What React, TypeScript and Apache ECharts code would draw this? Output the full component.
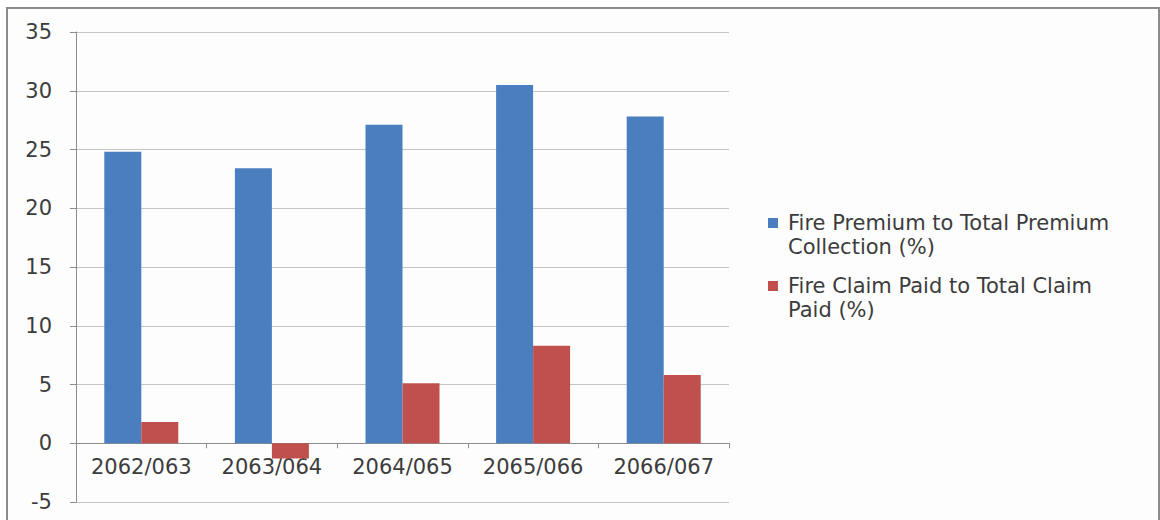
import React, { useEffect, useRef } from "react";
import * as echarts from "echarts";

const categories = ["2062/063", "2063/064", "2064/065", "2065/066", "2066/067"];
const premiumShare = [24.8, 23.4, 27.1, 30.5, 27.8];
const claimShare = [1.8, -1.3, 5.1, 8.3, 5.8];
const seriesNames = [
  "Fire Premium to Total Premium\nCollection (%)",
  "Fire Claim Paid to Total Claim\nPaid (%)",
];
const yMin = -5;
const yMax = 35;
const yStep = 5;

const FONT = "DejaVu Sans";
const TXT = "#3c3c3c";

export default function App() {
  const ref = useRef<HTMLDivElement>(null);
  useEffect(() => {
    document.body.style.margin = "0";
    const chart = echarts.init(ref.current!, null, { renderer: "svg" });
    const legendCommon = {
      orient: "vertical",
      left: 768,
      padding: 0,
      itemWidth: 20,
      itemHeight: 10,
      icon: "path://M0,0h10v10h-10z",
      symbolKeepAspect: true,
      selectedMode: false,
      formatter: (name: string) => "\n" + name,
      textStyle: {
        fontFamily: FONT,
        fontSize: 21,
        color: TXT,
        lineHeight: 24,
      },
      itemGap: 0,
    };
    chart.setOption({
      animation: false,
      backgroundColor: "#ffffff",
      graphic: [
        {
          type: "rect",
          z: -10,
          silent: true,
          shape: { x: 7, y: 8, width: 1152, height: 530 },
          style: { fill: "#fdfdfd", stroke: "#8c8c8c", lineWidth: 2 },
        },
      ],
      legend: [
        { ...legendCommon, top: 223 - 36, data: [seriesNames[0]] },
        { ...legendCommon, top: 286 - 36, data: [seriesNames[1]] },
      ],
      grid: {
        left: 76,
        right: 431,
        top: 32,
        bottom: 18,
        containLabel: false,
        outerBoundsMode: "none",
      },
      xAxis: {
        type: "category",
        data: categories,
        axisLine: { onZero: true, lineStyle: { color: "#8c8c8c", width: 1 } },
        axisTick: { show: true, length: 5, lineStyle: { color: "#8c8c8c" } },
        axisLabel: {
          fontFamily: FONT,
          fontSize: 21,
          color: TXT,
          margin: -46,
          interval: 0,
          hideOverlap: false,
        },
      },
      yAxis: {
        type: "value",
        min: yMin,
        max: yMax,
        interval: yStep,
        axisLine: { show: true, lineStyle: { color: "#8c8c8c", width: 1 } },
        axisTick: { show: true, length: 6, lineStyle: { color: "#8c8c8c" } },
        axisLabel: { fontFamily: FONT, fontSize: 21, color: TXT, margin: 24 },
        splitLine: { lineStyle: { color: "#c4c4c4", width: 1 } },
      },
      series: [
        {
          name: seriesNames[0],
          type: "bar",
          data: premiumShare,
          barWidth: 37,
          barGap: "0%",
          itemStyle: { color: "#4a7ebf" },
        },
        {
          name: seriesNames[1],
          type: "bar",
          data: claimShare,
          barWidth: 37,
          barGap: "0%",
          itemStyle: { color: "#c0504d" },
        },
      ],
    });
    return () => chart.dispose();
  }, []);
  return <div ref={ref} style={{ width: 1160, height: 520 }} />;
}
